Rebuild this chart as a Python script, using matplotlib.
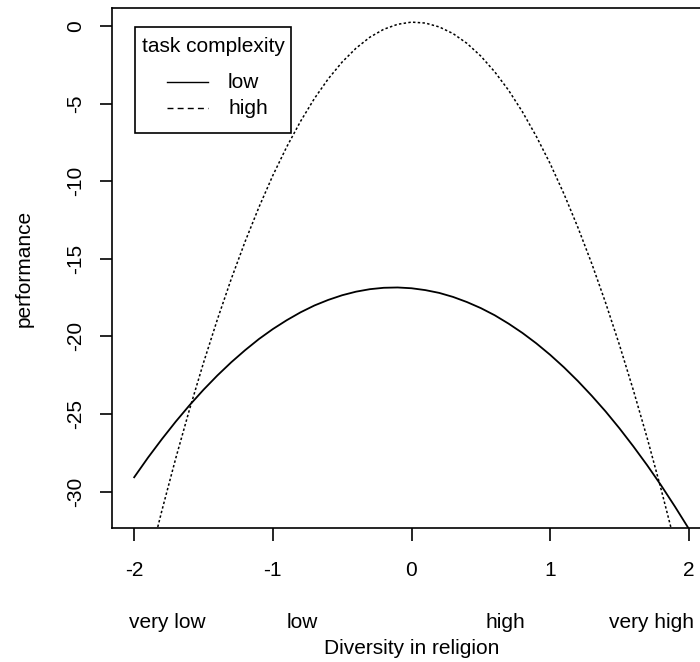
import matplotlib
matplotlib.use("Agg")
import matplotlib.pyplot as plt
from matplotlib.patches import Rectangle
import matplotlib.transforms as mtransforms

plt.rcParams['font.family'] = ['Liberation Sans', 'DejaVu Sans']

# diversity values (x axis)
x_vals = [-2.0, -1.9, -1.8, -1.7, -1.6, -1.5, -1.4, -1.3, -1.2, -1.1, -1.0,
          -0.9, -0.8, -0.7, -0.6, -0.5, -0.4, -0.3, -0.2, -0.1, 0.0,
          0.1, 0.2, 0.3, 0.4, 0.5, 0.6, 0.7, 0.8, 0.9, 1.0,
          1.1, 1.2, 1.3, 1.4, 1.5, 1.6, 1.7, 1.8, 1.9, 2.0]

# performance, low task complexity (solid)
perf_low = [-29.08, -27.81, -26.62, -25.49, -24.43, -23.44, -22.52, -21.67, -20.89, -20.17, -19.53,
            -18.96, -18.45, -18.01, -17.65, -17.35, -17.12, -16.96, -16.87, -16.85, -16.90,
            -17.02, -17.20, -17.46, -17.79, -18.18, -18.64, -19.18, -19.78, -20.45, -21.19,
            -22.00, -22.88, -23.83, -24.84, -25.93, -27.09, -28.31, -29.60, -30.97, -32.40]

# performance, high task complexity (dotted)
perf_high = [-38.51, -34.77, -31.22, -27.85, -24.68, -21.70, -18.91, -16.30, -13.89, -11.67, -9.63,
             -7.79, -6.14, -4.67, -3.40, -2.32, -1.43, -0.72, -0.21, 0.11, 0.25,
             0.19, -0.06, -0.49, -1.12, -1.94, -2.95, -4.14, -5.53, -7.11, -8.87,
             -10.83, -12.98, -15.31, -17.84, -20.56, -23.47, -26.56, -29.85, -33.33, -36.99]

x_ticks = [-2, -1, 0, 1, 2]
y_ticks = [0, -5, -10, -15, -20, -25, -30]
level_labels = ["very low", "low", "high", "very high"]
level_pos = [-1.76, -0.79, 0.68, 1.73]
legend_title = "task complexity"
legend_labels = ["low", "high"]

W, H = 700, 662
fig = plt.figure(figsize=(W / 100, H / 100), dpi=100)
ax = fig.add_axes([112 / W, 1 - 528 / H, (711 - 112) / W, (528 - 8) / H])

low_style = dict(color='black', lw=1.3)
high_style = dict(color='black', lw=1.1, linestyle=(0, (1.6, 1.5)))
ax.plot(x_vals, perf_low, **low_style)
ax.plot(x_vals, perf_high, **high_style)

ax.set_xlim(-2.16, 2.16)
ax.set_ylim(-32.35, 1.16)
ax.set_xticks(x_ticks)
ax.set_yticks(y_ticks)
ax.set_xticklabels([str(t) for t in x_ticks])
ax.set_yticklabels([str(t) for t in y_ticks])

for s in ax.spines.values():
    s.set_linewidth(1.2)
ax.tick_params(axis='both', direction='out', length=9, width=1.2, labelsize=15, colors='black')
ax.tick_params(axis='x', pad=15)
ax.tick_params(axis='y', pad=10)
for lab in ax.get_yticklabels():
    lab.set_rotation(90)
    lab.set_va('center')

ax.set_ylabel("performance", fontsize=15, labelpad=24)

# level labels under the tick labels
trans = mtransforms.blended_transform_factory(ax.transData, fig.transFigure)
for lab, pos in zip(level_labels, level_pos):
    ax.text(pos, 1 - 622 / H, lab, transform=trans, ha='center', va='center', fontsize=15)
fig.text((112 + 711) / 2 / W, 1 - 648 / H, "Diversity in religion", ha='center', va='center', fontsize=15)

# legend box drawn like R's legend(), positions in pixels
def px(x, y):
    return x / W, 1 - y / H

fig.patches.append(Rectangle(px(135, 133.3), 156 / W, 106.6 / H, transform=fig.transFigure,
                             fill=True, facecolor='white', edgecolor='black', lw=1.2, zorder=5))
fig.text(*px(213, 47), legend_title, ha='center', va='center', fontsize=15, zorder=6)
for i, (lab, style) in enumerate(zip(legend_labels, [low_style, high_style])):
    yy = 82 + 26 * i
    st = dict(style)
    if i == 1:
        st['linestyle'] = (0, (4.3, 3))
    st['lw'] = 1.0
    fig.add_artist(plt.Line2D([167 / W, 208 / W], [1 - yy / H] * 2, transform=fig.transFigure,
                              zorder=6, **st))
    fig.text(*px(228, yy), lab, ha='left', va='center', fontsize=15, zorder=6)

fig.savefig("out.png", dpi=100)
